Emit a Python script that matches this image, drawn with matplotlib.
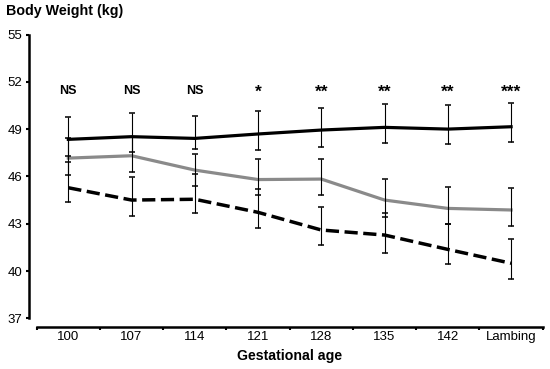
import numpy as np
import matplotlib.pyplot as plt

plt.rcParams['font.family'] = ['Liberation Sans', 'DejaVu Sans']

# categories and significance labels
ages = ['100', '107', '114', '121', '128', '135', '142', 'Lambing']
signif = ['NS', 'NS', 'NS', '*', '**', '**', '**', '***']

# group means (kg)
solid_mean = [48.35, 48.52, 48.41, 48.69, 48.94, 49.11, 49.00, 49.15]
gray_mean = [47.16, 47.31, 46.40, 45.80, 45.83, 44.50, 43.97, 43.87]
dash_mean = [45.28, 44.50, 44.55, 43.72, 42.60, 42.28, 41.37, 40.49]

# error bar ends (upper, lower)
solid_hi = [49.75, 50.00, 49.85, 50.15, 50.36, 50.59, 50.53, 50.67]
solid_lo = [47.31, 47.53, 47.72, 47.67, 47.88, 48.10, 48.03, 48.16]
gray_hi = [48.41, 48.50, 47.40, 47.08, 47.10, 45.81, 45.35, 45.24]
gray_lo = [46.09, 46.30, 45.39, 44.82, 44.82, 43.44, 42.98, 42.87]
dash_hi = [46.89, 45.98, 46.13, 45.18, 44.08, 43.66, 42.98, 42.01]
dash_lo = [44.36, 43.51, 43.66, 42.71, 41.65, 41.16, 40.44, 39.49]

x = np.arange(len(ages))

fig = plt.figure(figsize=(5.5, 3.69), dpi=100)
ax = fig.add_axes([36.7 / 550, 1 - 318.3 / 369, 506 / 550, (318.3 - 34.5) / 369])

ax.plot(x, solid_mean, color='black', lw=2.3, zorder=2)
ax.plot(x, gray_mean, color='#8a8a8a', lw=2.3, zorder=2)
ax.plot(x, dash_mean, color='black', lw=2.5, dashes=(3.8, 1.6), zorder=2)

for m, hi, lo in [(solid_mean, solid_hi, solid_lo),
                  (gray_mean, gray_hi, gray_lo),
                  (dash_mean, dash_hi, dash_lo)]:
    m = np.array(m)
    yerr = [m - np.array(lo), np.array(hi) - m]
    ax.errorbar(x, m, yerr=yerr, fmt='none', ecolor='black', elinewidth=0.8,
                capsize=2, capthick=1.1, zorder=3)

for xi, s in zip(x, signif):
    if s == 'NS':
        ax.text(xi, 51.23, s, ha='center', va='baseline', fontsize=9, fontweight='bold')
    else:
        ax.text(xi, 51.02, s, ha='center', va='baseline', fontsize=12.5, fontweight='bold')

ax.set_xlim(-0.5, 7.5)
ax.set_ylim(37, 55)
ax.set_yticks(np.arange(37, 56, 3))
ax.set_xticks(np.arange(-0.5, 8, 1))
ax.set_xticklabels([])
ax.set_xticks(x, minor=True)
ax.set_xticklabels(ages, minor=True)
ax.tick_params(axis='x', which='minor', length=0, pad=3.5, labelsize=9.5)
ax.tick_params(axis='x', which='major', length=2.5, width=1.5)
ax.tick_params(axis='y', length=2, width=1.5, pad=3, labelsize=9.5)

for side in ['top', 'right']:
    ax.spines[side].set_visible(False)
ax.spines['left'].set_position(('outward', 5.5))
ax.spines['bottom'].set_position(('outward', 6))
ax.spines['left'].set_linewidth(1.8)
ax.spines['bottom'].set_linewidth(1.8)

fig.text(6 / 550, 1 - 10.5 / 369, 'Body Weight (kg)', fontsize=10.3, fontweight='bold',
         ha='left', va='center')
ax.set_xlabel('Gestational age', fontsize=10.2, fontweight='bold', labelpad=4)

fig.savefig('out.png', dpi=100)
